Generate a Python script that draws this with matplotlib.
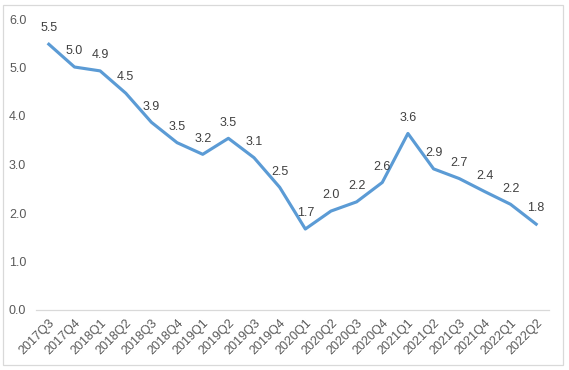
import matplotlib
matplotlib.use("Agg")
import matplotlib.pyplot as plt
from matplotlib.patches import Rectangle

quarters = ["2017Q3", "2017Q4", "2018Q1", "2018Q2", "2018Q3", "2018Q4",
            "2019Q1", "2019Q2", "2019Q3", "2019Q4", "2020Q1", "2020Q2",
            "2020Q3", "2020Q4", "2021Q1", "2021Q2", "2021Q3", "2021Q4",
            "2022Q1", "2022Q2"]
values = [5.48, 5.01, 4.93, 4.47, 3.87, 3.45, 3.21, 3.54, 3.14, 2.53,
          1.67, 2.04, 2.23, 2.63, 3.64, 2.91, 2.71, 2.44, 2.18, 1.77]
yticks = [0.0, 1.0, 2.0, 3.0, 4.0, 5.0, 6.0]

plt.rcParams['font.family'] = ['Liberation Sans', 'DejaVu Sans']
fig = plt.figure(figsize=(5.69, 3.70), dpi=100)
ax = fig.add_axes([36/569, 1-310/370, 513/569, 291/370])

x = list(range(len(quarters)))
ax.plot(x, values, color="#5B9BD5", linewidth=2.25, solid_joinstyle='round', zorder=3)
for xi, v in zip(x, values):
    ax.annotate(f"{v:.1f}", (xi, v), xytext=(0, 7), textcoords="offset points",
                ha="center", va="bottom", fontsize=9, color="#404040")

ax.set_xlim(-0.5, len(quarters) - 0.5)
ax.set_ylim(0, 6)
ax.set_yticks(yticks)
ax.set_yticklabels([f"{t:.1f}" for t in yticks])
ax.set_xticks(x)
ax.set_xticklabels(quarters, rotation=45, ha="right", va="top", rotation_mode="anchor")
ax.tick_params(axis="both", length=0, labelsize=9, colors="#595959")
ax.tick_params(axis="y", pad=7)
ax.tick_params(axis="x", pad=5)
for s in ["top", "right", "left"]:
    ax.spines[s].set_visible(False)
ax.spines["bottom"].set_color("#D9D9D9")
ax.spines["bottom"].set_linewidth(0.9)

fig.patches.append(Rectangle((3/569, 1-365/370), 560/569, 360/370, transform=fig.transFigure,
                             fill=False, edgecolor="#D9D9D9", linewidth=0.9))
fig.savefig("out.png", dpi=100)
